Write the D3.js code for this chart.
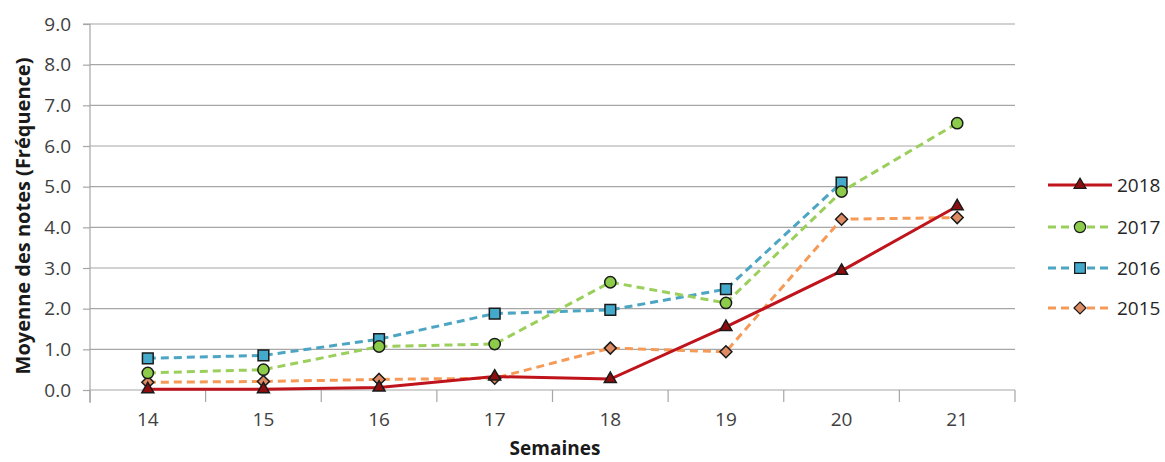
<!DOCTYPE html>
<html><head><meta charset="utf-8">
<script src="https://cdn.jsdelivr.net/npm/d3@7"></script>
<style>body{margin:0;background:#fff;} text{font-family:"Open Sans","Lato",sans-serif;}</style>
</head><body>
<svg id="c" width="1165" height="462"></svg>
<script>
const weeks = ["14","15","16","17","18","19","20","21"];
const yTicks = [0,1,2,3,4,5,6,7,8,9];
const s2018 = [0.02,0.02,0.06,0.33,0.27,1.55,2.93,4.52];
const s2017 = [0.42,0.5,1.07,1.13,2.65,2.14,4.88,6.56];
const s2016 = [0.78,0.85,1.25,1.88,1.97,2.48,5.1,null];
const s2015 = [0.19,0.21,0.26,0.29,1.03,0.94,4.2,4.24];
const seriesNames = ["2018","2017","2016","2015"];

const diamond = {draw(ctx,size){const r=Math.sqrt(size)/Math.SQRT2*1.0;ctx.moveTo(0,-r);ctx.lineTo(r,0);ctx.lineTo(0,r);ctx.lineTo(-r,0);ctx.closePath();}};
const series = [
  {name:"2018", values:s2018, color:"#C0141C", fill:"#8E0E10", dash:null, width:3, shape:d3.symbolTriangle, size:62},
  {name:"2017", values:s2017, color:"#9BCF5B", fill:"#8DCB4A", dash:"8,5", width:3, shape:d3.symbolCircle, size:100},
  {name:"2016", values:s2016, color:"#4BA5C3", fill:"#44AACB", dash:"8,5", width:3, shape:d3.symbolSquare, size:115},
  {name:"2015", values:s2015, color:"#F59A57", fill:"#DE8A62", dash:"8,5", width:3, shape:diamond, size:72}
];

const svg = d3.select("#c");
const L=90, R=1015, T=24, B=390;
const FS = 19;
const x = d3.scaleBand().domain(weeks).range([L,R]);
const y = d3.scaleLinear().domain([0,9]).range([B,T]);

// gridlines
svg.append("g").selectAll("line").data(yTicks.filter(d=>d>0)).join("line")
  .attr("x1",L).attr("x2",R).attr("y1",d=>y(d)).attr("y2",d=>y(d))
  .attr("stroke","#A6A6A6").attr("stroke-width",1.2);

// y axis
const ya = svg.append("g").attr("transform",`translate(${L},0)`)
  .call(d3.axisLeft(y).tickValues(yTicks).tickFormat(d3.format(".1f")).tickSize(7).tickPadding(12));
ya.select(".domain").attr("stroke","#A6A6A6").attr("stroke-width",1.2).attr("d",`M-7,${T}H0V${B+13}`);
ya.selectAll(".tick line").attr("stroke","#A6A6A6").attr("stroke-width",1.2);
ya.selectAll(".tick text").attr("font-size",FS).attr("fill","#404040").attr("font-family","'Open Sans',sans-serif");

// x axis
const xa = svg.append("g").attr("transform",`translate(0,${B})`)
  .call(d3.axisBottom(x).tickSize(0).tickPadding(23));
xa.select(".domain").attr("stroke","#A6A6A6").attr("stroke-width",1.2).attr("d",`M${L},0H${R}`);
xa.selectAll(".tick text").attr("font-size",FS).attr("fill","#404040").attr("font-family","'Open Sans',sans-serif");
svg.append("g").selectAll("line").data(d3.range(weeks.length+1)).join("line")
  .attr("x1",i=>L+i*x.step()).attr("x2",i=>L+i*x.step())
  .attr("y1",B).attr("y2",B+12).attr("stroke","#A6A6A6").attr("stroke-width",1.2);

// axis titles
svg.append("text").attr("transform",`translate(30,216) rotate(-90)`)
  .attr("text-anchor","middle").attr("font-size",20).attr("font-weight","bold").attr("fill","#1a1a1a")
  .text("Moyenne des notes (Fréquence)");
svg.append("text").attr("x",555).attr("y",455).attr("text-anchor","middle")
  .attr("font-size",19).attr("font-weight","bold").attr("fill","#1a1a1a").text("Semaines");

const cx = w => x(w)+x.bandwidth()/2;
const line = d3.line().defined(d=>d.v!=null).x(d=>cx(d.w)).y(d=>y(d.v));

// draw in reverse so 2018 on top
[...series].reverse().forEach(s=>{
  const pts = weeks.map((w,i)=>({w, v:s.values[i]}));
  svg.append("path").datum(pts).attr("d",line).attr("fill","none")
    .attr("stroke",s.color).attr("stroke-width",s.width)
    .attr("stroke-dasharray",s.dash);
});
[...series].reverse().forEach(s=>{
  const pts = weeks.map((w,i)=>({w, v:s.values[i]})).filter(d=>d.v!=null);
  svg.append("g").selectAll("path").data(pts).join("path")
    .attr("transform",d=>`translate(${cx(d.w)},${y(d.v)})`)
    .attr("d",d3.symbol().type(s.shape).size(s.size))
    .attr("fill",s.fill).attr("stroke","#1a1a1a").attr("stroke-width",1.5);
});

// legend
const lg = svg.append("g");
const rowsY = [185,227,268,308];
series.forEach((s,i)=>{
  const g = lg.append("g").attr("transform",`translate(0,${rowsY[i]})`);
  g.append("line").attr("x1",1048).attr("x2",1112).attr("y1",0).attr("y2",0)
    .attr("stroke",s.color).attr("stroke-width",s.width).attr("stroke-dasharray",s.dash);
  g.append("path").attr("transform","translate(1080,0)")
    .attr("d",d3.symbol().type(s.shape).size(s.size))
    .attr("fill",s.fill).attr("stroke","#1a1a1a").attr("stroke-width",1.2);
  g.append("text").attr("x",1117).attr("y",7).attr("font-size",FS).attr("fill","#262626")
    .text(seriesNames[i]);
});
</script>
</body></html>
